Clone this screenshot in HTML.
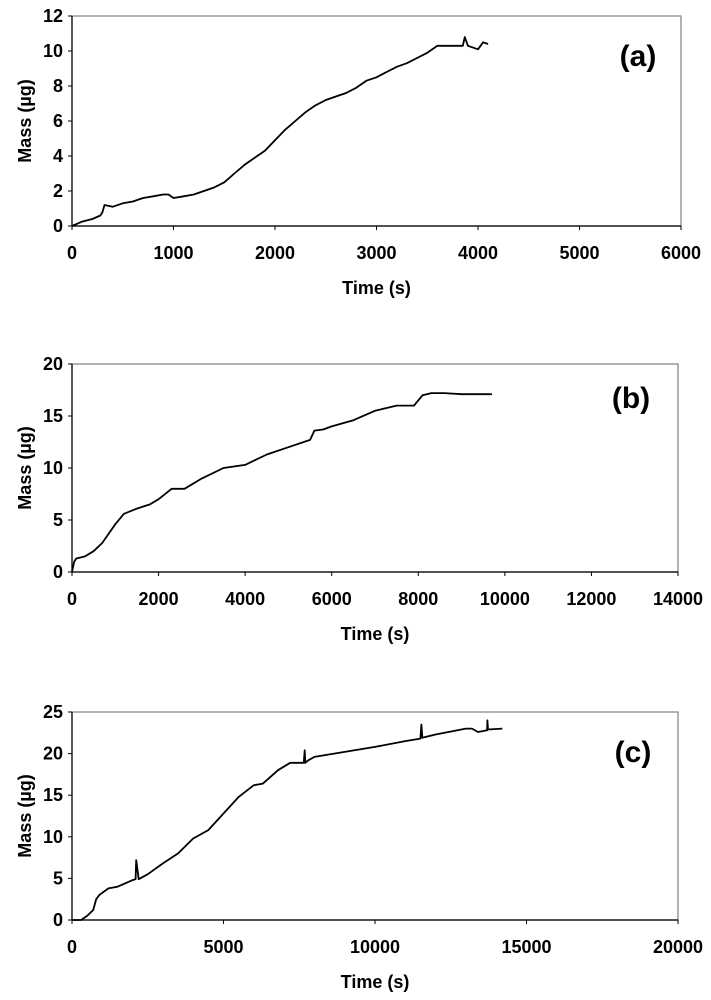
<!DOCTYPE html>
<html><head><meta charset="utf-8"><style>
html,body{margin:0;padding:0;background:#fff;width:711px;height:1000px;overflow:hidden}
svg{display:block}
text{font-family:"Liberation Sans",Arial,sans-serif;font-weight:bold;fill:#000}
</style></head><body>
<svg id="fig" width="711" height="1000" viewBox="0 0 711 1000"></svg>
<script>
const aTime=[0,100,200,280,300,320,400,500,600,700,800,900,950,1000,1100,1200,1300,1400,1500,1600,1700,1800,1900,2000,2100,2200,2300,2400,2500,2600,2700,2800,2900,3000,3100,3200,3300,3400,3500,3600,3700,3800,3850,3870,3900,4000,4050,4100];
const aMass=[0,0.25,0.4,0.6,0.8,1.2,1.1,1.3,1.4,1.6,1.7,1.8,1.8,1.6,1.7,1.8,2.0,2.2,2.5,3.0,3.5,3.9,4.3,4.9,5.5,6.0,6.5,6.9,7.2,7.4,7.6,7.9,8.3,8.5,8.8,9.1,9.3,9.6,9.9,10.3,10.3,10.3,10.3,10.8,10.3,10.1,10.5,10.4];
const bTime=[0,50,100,300,500,700,900,1000,1200,1500,1800,2000,2300,2600,3000,3500,4000,4500,5000,5500,5600,5800,6000,6500,7000,7500,7900,8100,8300,8600,9000,9700];
const bMass=[0,1.0,1.3,1.5,2.0,2.8,4.0,4.6,5.6,6.1,6.5,7.0,8.0,8.0,9.0,10.0,10.3,11.3,12.0,12.7,13.6,13.7,14.0,14.6,15.5,16.0,16.0,17.0,17.2,17.2,17.1,17.1];
const cTime=[0,300,500,700,800,900,1200,1500,2000,2100,2120,2200,2500,3000,3500,4000,4500,5000,5500,6000,6300,6800,7200,7650,7680,7700,7800,8000,9000,10000,11000,11500,11530,11560,12000,13000,13200,13400,13700,13710,13730,14200];
const cMass=[0,0,0.5,1.2,2.5,3.0,3.8,4.0,4.8,4.9,7.2,4.9,5.5,6.8,8.0,9.8,10.8,12.8,14.8,16.2,16.4,18.0,18.9,18.9,20.4,18.9,19.2,19.6,20.2,20.8,21.5,21.8,23.5,21.9,22.3,23.0,23.0,22.6,22.8,24.0,22.9,23.0];
const aXTicks=[0,1000,2000,3000,4000,5000,6000], aYTicks=[0,2,4,6,8,10,12];
const bXTicks=[0,2000,4000,6000,8000,10000,12000,14000], bYTicks=[0,5,10,15,20];
const cXTicks=[0,5000,10000,15000,20000], cYTicks=[0,5,10,15,20,25];
const NS="http://www.w3.org/2000/svg";
const svg=document.getElementById('fig');
function mk(tag,attrs,parent){const e=document.createElementNS(NS,tag);for(const k in attrs)e.setAttribute(k,attrs[k]);(parent||svg).appendChild(e);return e;}
function panel(id,L,R,T,B,xTicks,yTicks,times,masses,tag,tagX,tagY){
  const g=mk('g',{});
  
  
  const xMax=xTicks[xTicks.length-1], yMax=yTicks[yTicks.length-1];
  const sx=v=>L+(R-L)*v/xMax, sy=v=>B-(B-T)*v/yMax;
  const fr=mk('rect',{x:L,y:T,width:R-L,height:B-T,fill:'none',stroke:'#888','stroke-width':1.3},g);
  
  
  mk('line',{x1:L,y1:T,x2:L,y2:B,stroke:'#000','stroke-width':1.2},g);
  mk('line',{x1:L,y1:B,x2:R,y2:B,stroke:'#000','stroke-width':1.2},g);
  yTicks.forEach(v=>{
    mk('line',{x1:L-4,y1:sy(v),x2:L,y2:sy(v),stroke:'#000'},g);
    const t=mk('text',{x:L-9,y:sy(v)+6,'text-anchor':'end','font-size':18},g);t.textContent=v;
    
    
  });
  xTicks.forEach(v=>{
    mk('line',{x1:sx(v),y1:B,x2:sx(v),y2:B+4,stroke:'#000'},g);
    const t=mk('text',{x:sx(v),y:B+33,'text-anchor':'middle','font-size':18},g);t.textContent=v;
    
    
  });
  const xt=mk('text',{x:(L+R)/2,y:B+68,'text-anchor':'middle','font-size':18},g);xt.textContent='Time (s)';
  
  
  const yt=mk('text',{x:0,y:0,'text-anchor':'middle','font-size':18,transform:`translate(31,${(T+B)/2}) rotate(-90)`},g);yt.textContent='Mass (\u00b5g)';
  
  
  const d=times.map((t,i)=>(i?'L':'M')+sx(t).toFixed(1)+','+sy(masses[i]).toFixed(1)).join('');
  const p=mk('path',{d:d,fill:'none',stroke:'#000','stroke-width':1.8,'stroke-linejoin':'round'},g);
  
  
  const lb=mk('text',{x:tagX,y:tagY,'text-anchor':'middle','font-size':30},g);lb.textContent=tag;
  
  
}
panel('a',72,681,16,226,aXTicks,aYTicks,aTime,aMass,'(a)',638,66);
panel('b',72,678,364,572,bXTicks,bYTicks,bTime,bMass,'(b)',631,408);
panel('c',72,678,712,920,cXTicks,cYTicks,cTime,cMass,'(c)',633,762);
</script>
</body></html>
